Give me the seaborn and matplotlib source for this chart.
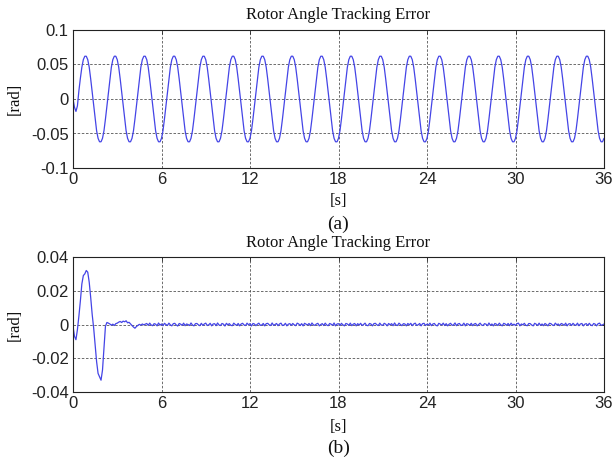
import numpy as np
import pandas as pd
import matplotlib
matplotlib.use("Agg")
import matplotlib.pyplot as plt
import seaborn as sns

# ---- data ----
# (a) rotor angle tracking error, samples every 0.1 s from 0 to 36 s, units 1e-3 rad
err_a_milli = [
    0, -12, -18, -10, 12, 30, 46, 57, 62, 62, 57, 46, 29, 10, -10, -29, -46, -57, -62, -62,
    -57, -46, -29, -10, 10, 29, 46, 57, 62, 62, 57, 46, 29, 10, -10, -29, -46, -57, -62, -62,
    -57, -46, -29, -10, 10, 29, 46, 57, 62, 62, 57, 46, 29, 10, -10, -29, -46, -57, -62, -62,
    -57, -46, -29, -10, 10, 29, 46, 57, 62, 62, 57, 46, 29, 10, -10, -29, -46, -57, -62, -62,
    -57, -46, -29, -10, 10, 29, 46, 57, 62, 62, 57, 46, 29, 10, -10, -29, -46, -57, -62, -62,
    -57, -46, -29, -10, 10, 29, 46, 57, 62, 62, 57, 46, 29, 10, -10, -29, -46, -57, -62, -62,
    -57, -46, -29, -10, 10, 29, 46, 57, 62, 62, 57, 46, 29, 10, -10, -29, -46, -57, -62, -62,
    -57, -46, -29, -10, 10, 29, 46, 57, 62, 62, 57, 46, 29, 10, -10, -29, -46, -57, -62, -62,
    -57, -46, -29, -10, 10, 29, 46, 57, 62, 62, 57, 46, 29, 10, -10, -29, -46, -57, -62, -62,
    -57, -46, -29, -10, 10, 29, 46, 57, 62, 62, 57, 46, 29, 10, -10, -29, -46, -57, -62, -62,
    -57, -46, -29, -10, 10, 29, 46, 57, 62, 62, 57, 46, 29, 10, -10, -29, -46, -57, -62, -62,
    -57, -46, -29, -10, 10, 29, 46, 57, 62, 62, 57, 46, 29, 10, -10, -29, -46, -57, -62, -62,
    -57, -46, -29, -10, 10, 29, 46, 57, 62, 62, 57, 46, 29, 10, -10, -29, -46, -57, -62, -62,
    -57, -46, -29, -10, 10, 29, 46, 57, 62, 62, 57, 46, 29, 10, -10, -29, -46, -57, -62, -62,
    -57, -46, -29, -10, 10, 29, 46, 57, 62, 62, 57, 46, 29, 10, -10, -29, -46, -57, -62, -62,
    -57, -46, -29, -10, 10, 29, 46, 57, 62, 62, 57, 46, 29, 10, -10, -29, -46, -57, -62, -62,
    -57, -46, -29, -10, 10, 29, 46, 57, 62, 62, 57, 46, 29, 10, -10, -29, -46, -57, -62, -62,
    -57, -46, -29, -10, 10, 29, 46, 57, 62, 62, 57, 46, 29, 10, -10, -29, -46, -57, -62, -62,
    -57,
]

# (b) rotor angle tracking error, samples every 0.1 s from 0 to 36 s, units 1e-4 rad
err_b_e4 = [
    -10, -70, -90, -30, 50, 140, 240, 290, 300, 320,
    310, 250, 160, 60, -20, -120, -220, -290, -310, -330,
    -270, -140, -10, 12, 8, 3, -4, 2, -6, 5,
    8, 14, 18, 12, 20, 16, 22, 10, 13, 3,
    -6, -15, -22, -12, -5, 1, -4, 3, -2, 2,
    6, -5, 8, -3, -7, 5, 2, -8, 9, -4, 3, -7, 7, 0, -6, 8, -2, -8, 5, 7,
    -3, -9, 6, 2, -5, 8, -7, 3, 0, -6, 9, -3, -8, 5, 6, -2, -7, 7, -5, 3,
    8, -6, -2, 7, -8, 3, 5, -7, 9, -3, -6, 6, 2, -9, 7, -2, 5, -5, -7, 8,
    0, -5, 6, -8, 3, 7, -3, -6, 8, -2, 5, -9, 6, 3, -7, 2, 8, -5, -3, 6,
    -8, 5, 7, -2, -6, 9, -5, 0, 6, -7, 3, 8, -6, -3, 7, -8, 2, 5, -5, 6,
    -2, -7, 8, 3, -6, 5, -8, 7, 2, -3, 6, -7, 9, -2, -5, 3, 7, -8, 0, 5,
    -6, 8, -3, -7, 6, 2, -5, 9, -8, 3, 5, -6, 7, -2, -8, 6, 3, -5, 8, -7,
    2, 6, -8, 5, -3, 7, -6, 0, 8, -5, -7, 6, 3, -8, 5, 7, -2, -6, 8, -3,
    -5, 7, 2, -8, 6, -2, 5, -7, 9, -3, -6, 8, 0, -7, 5, 3, -8, 6, -2, 7,
    -7, 3, 8, -5, -2, 6, -8, 5, 7, -6, 2, -3, 8, -7, 3, 6, -5, -8, 7, 2,
    -3, 8, -6, 5, -8, 2, 7, -5, -2, 9, -7, 3, 6, -6, -3, 8, -8, 5, 2, -5,
    7, -7, 3, 6, -8, 0, 8, -3, -6, 5, 2, -7, 9, -5, 3, -8, 6, 2, -6, 8,
    -2, -8, 7, 3, -5, 6, -7, 8, -3, 2, -6, 5, 8, -8, 3, -2, 7, -5, -7, 6,
    5, -3, -8, 7, 2, -6, 8, -5, 3, -7, 6, 0, -8, 7, 5, -3, -6, 8, -2, 3,
    -7, 6, 2, -5, 8, -8, 3, 5, -6, 7, -2, -5, 8, -7, 3, 6, -8, 2, 5, -6,
    7, -3, -7, 6, 2, -8, 5, 8, -5, -2, 3,
]

t_end = 36.0
x_ticks = [0, 6, 12, 18, 24, 30, 36]
x_ticklabels = ["0", "6", "12", "18", "24", "30", "36"]
ya_ticks = [-0.1, -0.05, 0, 0.05, 0.1]
ya_ticklabels = ["-0.1", "-0.05", "0", "0.05", "0.1"]
yb_ticks = [-0.04, -0.02, 0, 0.02, 0.04]
yb_ticklabels = ["-0.04", "-0.02", "0", "0.02", "0.04"]
title_text = "Rotor Angle Tracking Error"

df_a = pd.DataFrame({"t": np.linspace(0, t_end, len(err_a_milli)),
                     "e": np.array(err_a_milli) * 1e-3})
df_b = pd.DataFrame({"t": np.linspace(0, t_end, len(err_b_e4)),
                     "e": np.array(err_b_e4) * 1e-4})

sns.set_style("white")
plt.rcParams["font.family"] = ["Liberation Sans", "DejaVu Sans"]

W, H = 615, 461
fig = plt.figure(figsize=(W / 100, H / 100), dpi=100)
fig.patch.set_facecolor("white")

def px_axes(left, top, right, bottom):
    return fig.add_axes([left / W, 1 - bottom / H, (right - left) / W, (bottom - top) / H])

serif = ["Liberation Serif", "DejaVu Serif"]
line_color = "#4444e6"
grid_color = "#555555"

def style_axes(ax, yticks, yticklabels, ylim):
    ax.set_xlim(0, t_end)
    ax.set_ylim(*ylim)
    ax.set_xticks(x_ticks)
    ax.set_xticklabels(x_ticklabels)
    ax.set_yticks(yticks)
    ax.set_yticklabels(yticklabels)
    ax.tick_params(direction="in", length=3, width=0.6, top=True, right=True,
                   labelsize=12, colors="#222222", pad=3)
    ax.grid(True, color=grid_color, linestyle=(0, (3, 2)), linewidth=0.6)
    for s in ax.spines.values():
        s.set_visible(True)
        s.set_color("#222222")
        s.set_linewidth(0.8)
    ax.set_xlabel("")
    ax.set_ylabel("")

ax1 = px_axes(73, 30, 604, 168)
sns.lineplot(data=df_a, x="t", y="e", ax=ax1, color=line_color, linewidth=0.9)
style_axes(ax1, ya_ticks, ya_ticklabels, (-0.1, 0.1))

ax2 = px_axes(73, 257, 604, 392)
sns.lineplot(data=df_b, x="t", y="e", ax=ax2, color=line_color, linewidth=0.9)
style_axes(ax2, yb_ticks, yb_ticklabels, (-0.04, 0.04))

def ftext(px, py, s, size, rot=0):
    fig.text(px / W, 1 - py / H, s, ha="center", va="center", fontsize=size,
             family=serif, rotation=rot, color="#111111")

cx = (73 + 604) / 2
ftext(cx, 15, title_text, 12)
ftext(cx, 243, title_text, 12)
ftext(15, 99, "[rad]", 12, rot=90)
ftext(15, 325, "[rad]", 12, rot=90)
ftext(cx, 201, "[s]", 12)
ftext(cx, 427, "[s]", 12)
ftext(cx, 224, "(a)", 14)
ftext(cx, 448, "(b)", 14)

fig.savefig("out.png", dpi=100, facecolor="white")
